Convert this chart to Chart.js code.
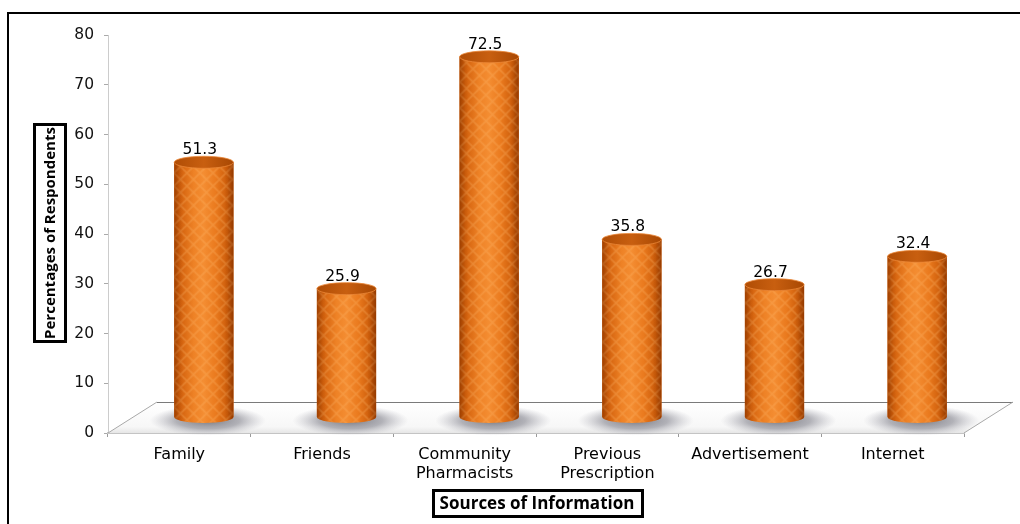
<!DOCTYPE html>
<html><head><meta charset="utf-8">
<script src="https://cdn.jsdelivr.net/npm/chart.js@4.4.0/dist/chart.umd.min.js"></script>
<style>html,body{margin:0;padding:0;background:#fff}canvas{display:block}</style>
</head><body>
<canvas id="c" width="1020" height="524"></canvas>
<script>
// ---- data ----
const categories = ['Family', 'Friends', ['Community', 'Pharmacists'], ['Previous', 'Prescription'], 'Advertisement', 'Internet'];
const percentages = [51.3, 25.9, 72.5, 35.8, 26.7, 32.4];
const valueLabels = ['51.3', '25.9', '72.5', '35.8', '26.7', '32.4'];
const yTickValues = [0, 10, 20, 30, 40, 50, 60, 70, 80];
const yTitle = 'Percentages of Respondents';
const xTitle = 'Sources of Information';

// ---- 3D look ----
const DX = 49, DY = -31;          // floor depth
const BX = DX / 2, BY = DY / 2;   // bars sit mid-depth
const RY = 6;                     // cylinder cap half-height

function makeHatch(ctx) {
  const s = 13;
  const c = document.createElement('canvas');
  c.width = s; c.height = s;
  const g = c.getContext('2d');
  g.strokeStyle = 'rgba(255,185,110,0.3)';
  g.lineWidth = 1.6;
  g.beginPath();
  g.moveTo(-1, -1); g.lineTo(s + 1, s + 1);
  g.moveTo(s + 1, -1); g.lineTo(-1, s + 1);
  g.stroke();
  return ctx.createPattern(c, 'repeat');
}

function bodyGradient(ctx, l, r) {
  const g = ctx.createLinearGradient(l, 0, r, 0);
  g.addColorStop(0, '#b04800');
  g.addColorStop(0.1, '#d2600c');
  g.addColorStop(0.33, '#ee8226');
  g.addColorStop(0.5, '#f48d32');
  g.addColorStop(0.7, '#ea7a1e');
  g.addColorStop(0.9, '#cc5c0a');
  g.addColorStop(1, '#a64200');
  return g;
}

const cylPlugin = {
  id: 'cyl',
  beforeDatasetsDraw(chart) {
    const { ctx, scales: { x, y } } = chart;
    const y0 = y.getPixelForValue(0);
    const l = x.left, r = x.right;
    ctx.save();
    // floor
    const fg = ctx.createLinearGradient(0, y0 + DY, 0, y0);
    fg.addColorStop(0, '#ffffff');
    fg.addColorStop(0.8, '#f7f7f7');
    fg.addColorStop(1, '#e6e6e6');
    ctx.fillStyle = fg;
    ctx.beginPath();
    ctx.moveTo(l, y0); ctx.lineTo(r, y0); ctx.lineTo(r + DX, y0 + DY); ctx.lineTo(l + DX, y0 + DY); ctx.closePath();
    ctx.fill();
    ctx.lineWidth = 1;
    ctx.strokeStyle = '#7a7a7a';
    ctx.beginPath(); ctx.moveTo(l + DX, y0 + DY + 0.5); ctx.lineTo(r + DX, y0 + DY + 0.5); ctx.stroke();
    ctx.strokeStyle = '#a8a8a8';
    ctx.beginPath(); ctx.moveTo(l, y0); ctx.lineTo(l + DX, y0 + DY); ctx.stroke();
    ctx.beginPath(); ctx.moveTo(r, y0); ctx.lineTo(r + DX, y0 + DY); ctx.stroke();
    // shadows
    const meta = chart.getDatasetMeta(0);
    meta.data.forEach(el => {
      const p = el.getProps(['x', 'width'], true);
      const cx = p.x + BX + 4, cy = y0 + BY + 3;
      ctx.save();
      ctx.translate(cx, cy);
      ctx.scale(1, 0.26);
      const rg = ctx.createRadialGradient(0, 0, 0, 0, 0, 58);
      rg.addColorStop(0, 'rgba(100,100,110,0.85)');
      rg.addColorStop(0.55, 'rgba(130,130,140,0.6)');
      rg.addColorStop(1, 'rgba(170,170,180,0)');
      ctx.fillStyle = rg;
      ctx.beginPath(); ctx.arc(0, 0, 58, 0, Math.PI * 2); ctx.fill();
      ctx.restore();
    });
    ctx.restore();
    ctx.save();
    ctx.translate(BX, BY);
  },
  afterDatasetsDraw(chart) {
    const { ctx } = chart;
    const meta = chart.getDatasetMeta(0);
    const hatch = makeHatch(ctx);
    meta.data.forEach(el => {
      const p = el.getProps(['x', 'y', 'base', 'width'], true);
      const rx = p.width / 2, l = p.x - rx, r = p.x + rx;
      ctx.save();
      ctx.beginPath();
      ctx.moveTo(l, p.y);
      ctx.lineTo(l, p.base);
      ctx.ellipse(p.x, p.base, rx, RY, 0, Math.PI, 0, true);
      ctx.lineTo(r, p.y);
      ctx.closePath();
      ctx.fillStyle = bodyGradient(ctx, l, r);
      ctx.fill();
      ctx.fillStyle = hatch;
      ctx.fill();
      const eg = ctx.createLinearGradient(l, 0, r, 0);
      eg.addColorStop(0, 'rgba(110,40,0,0.25)');
      eg.addColorStop(0.15, 'rgba(110,40,0,0)');
      eg.addColorStop(0.85, 'rgba(110,40,0,0)');
      eg.addColorStop(1, 'rgba(110,40,0,0.3)');
      ctx.fillStyle = eg;
      ctx.fill();
      // top cap
      const cg = ctx.createLinearGradient(l, 0, r, 0);
      cg.addColorStop(0, '#b04d05');
      cg.addColorStop(0.5, '#c85f10');
      cg.addColorStop(1, '#a84803');
      ctx.fillStyle = cg;
      ctx.beginPath();
      ctx.ellipse(p.x, p.y, rx, RY, 0, 0, Math.PI * 2);
      ctx.fill();
      ctx.strokeStyle = 'rgba(235,135,55,0.8)';
      ctx.lineWidth = 1;
      ctx.stroke();
      ctx.restore();
    });
    ctx.restore();
    // value labels
    ctx.save();
    ctx.font = '15.5px "DejaVu Sans"';
    ctx.fillStyle = '#000';
    ctx.textAlign = 'center';
    ctx.textBaseline = 'alphabetic';
    meta.data.forEach((el, i) => {
      const p = el.getProps(['x', 'y'], true);
      ctx.fillText(valueLabels[i], p.x + BX - 4, p.y + BY - RY - 2);
    });
    ctx.restore();
  },
  afterDraw(chart) {
    const { ctx } = chart;
    ctx.save();
    ctx.strokeStyle = '#000';
    ctx.lineWidth = 2;
    ctx.strokeRect(8, 13, 1100, 600);
    // y title
    ctx.lineWidth = 3;
    ctx.strokeRect(34.5, 124.5, 31, 217);
    ctx.save();
    ctx.translate(50, 233);
    ctx.rotate(-Math.PI / 2);
    ctx.font = 'bold 15px "Open Sans"';
    ctx.fillStyle = '#000';
    ctx.textAlign = 'center';
    ctx.textBaseline = 'middle';
    ctx.fillText(yTitle, 0, 1);
    ctx.restore();
    // x title
    ctx.strokeRect(433.5, 490.5, 209, 26);
    ctx.font = 'bold 17px "Open Sans"';
    ctx.fillStyle = '#000';
    ctx.textAlign = 'center';
    ctx.textBaseline = 'middle';
    ctx.fillText(xTitle, 537, 504);
    ctx.restore();
  }
};

new Chart(document.getElementById('c'), {
  type: 'bar',
  data: {
    labels: categories,
    datasets: [{
      data: percentages,
      backgroundColor: '#e4711b',
      borderWidth: 0,
      categoryPercentage: 1,
      barPercentage: 0.415
    }]
  },
  options: {
    responsive: false,
    animation: false,
    events: [],
    layout: { padding: { left: 0, right: 56, top: 35, bottom: 0 } },
    plugins: { legend: { display: false }, tooltip: { enabled: false } },
    scales: {
      x: {
        afterFit(s) { s.height = 91; },
        grid: { display: true, drawOnChartArea: false, offset: true, tickLength: 4, color: '#9a9a9a', tickColor: '#9a9a9a' },
        border: { display: true, color: '#c4c4c4', width: 2 },
        ticks: { color: '#000', font: { family: '"DejaVu Sans"', size: 16 }, padding: 8, maxRotation: 0, autoSkip: false }
      },
      y: {
        min: 0, max: 80,
        afterFit(s) { s.width = 108; },
        afterBuildTicks(s) { s.ticks = yTickValues.map(v => ({ value: v })); },
        grid: { display: true, drawOnChartArea: false, tickLength: 4, color: '#aaaaaa', tickColor: '#aaaaaa' },
        border: { display: true, color: '#cccccc', width: 1 },
        ticks: { color: '#111', font: { family: '"DejaVu Sans"', size: 15.5 }, padding: 10 }
      }
    }
  },
  plugins: [cylPlugin]
});
</script>
</body></html>
